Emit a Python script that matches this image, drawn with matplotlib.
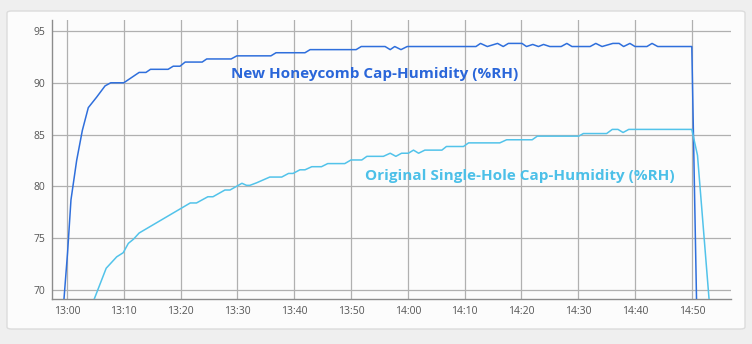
import matplotlib
matplotlib.use("Agg")
import matplotlib.pyplot as plt
from matplotlib.patches import FancyBboxPatch

# minutes after 13:00
new_t = [-1.0, 0.1, 0.7, 1.7, 2.7, 3.75, 5.2, 6.7, 7.7, 10.0, 12.7, 13.9, 14.7, 17.8, 18.7,
         19.9, 20.8, 23.8, 24.6, 28.9, 29.9, 35.9, 36.8, 41.9, 42.8, 50.9, 51.8, 56.0, 56.9,
         57.7, 58.8, 59.9, 72.0, 72.8, 74.0, 75.8, 76.8, 77.7, 80.1, 80.9, 82.0, 83.0, 83.9,
         85.0, 87.0, 88.0, 88.9, 92.1, 93.1, 94.2, 96.1, 97.2, 98.0, 99.1, 100.0, 102.1,
         103.0, 104.0, 110.0, 111.0]
new_v = [65.8, 73.6, 78.7, 82.5, 85.4, 87.6, 88.6, 89.7, 90.0, 90.0, 91.0, 91.0, 91.3, 91.3, 91.6,
         91.6, 92.0, 92.0, 92.3, 92.3, 92.6, 92.6, 92.9, 92.9, 93.2, 93.2, 93.5, 93.5, 93.2,
         93.5, 93.2, 93.5, 93.5, 93.8, 93.5, 93.8, 93.5, 93.8, 93.8, 93.5, 93.7, 93.5, 93.7,
         93.5, 93.5, 93.8, 93.5, 93.5, 93.8, 93.5, 93.8, 93.8, 93.5, 93.8, 93.5, 93.5,
         93.8, 93.5, 93.5, 64.1]

orig_t = [4.0, 6.9, 8.75, 9.9, 10.8, 11.7, 12.7, 21.7, 22.8, 24.8, 25.7, 27.8, 28.7, 30.8, 31.6,
          32.2, 33.4, 35.7, 37.8, 39.0, 39.8, 41.0, 41.9, 43.1, 44.8, 45.9, 48.9, 50.0, 51.9,
          52.8, 55.7, 56.9, 57.9, 58.9, 60.1, 61.0, 61.9, 63.0, 66.0, 66.8, 69.8, 70.7, 76.2,
          77.4, 81.9, 82.8, 90.1, 90.9, 95.0, 96.0, 97.0, 97.9, 98.9, 110.0, 111.0, 113.2]
orig_v = [68.0, 72.1, 73.2, 73.6, 74.5, 74.9, 75.5, 78.4, 78.4, 79.0, 79.0, 79.65, 79.65, 80.3, 80.1,
          80.1, 80.35, 80.9, 80.9, 81.25, 81.25, 81.6, 81.6, 81.9, 81.9, 82.2, 82.2, 82.55, 82.55,
          82.9, 82.9, 83.2, 82.9, 83.2, 83.2, 83.5, 83.2, 83.5, 83.5, 83.85, 83.85, 84.2, 84.2,
          84.5, 84.5, 84.85, 84.85, 85.1, 85.1, 85.5, 85.5, 85.2, 85.5, 85.5, 83.0, 68.0]

xticks = [0, 10, 20, 30, 40, 50, 60, 70, 80, 90, 100, 110]
xtick_labels = ["13:00", "13:10", "13:20", "13:30", "13:40", "13:50", "14:00",
                "14:10", "14:20", "14:30", "14:40", "14:50"]
yticks = [70, 75, 80, 85, 90, 95]

new_label = "New Honeycomb Cap-Humidity (%RH)"
orig_label = "Original Single-Hole Cap-Humidity (%RH)"

W, H = 752, 344
fig = plt.figure(figsize=(W / 100, H / 100), dpi=100)
fig.patch.set_facecolor("#efefef")

card = FancyBboxPatch((7 / W, 1 - 329 / H), (745 - 7) / W, (329 - 11) / H,
                      boxstyle="round,pad=0,rounding_size=0.006",
                      transform=fig.transFigure, facecolor="#fcfcfc",
                      edgecolor="#dcdcdc", linewidth=1, zorder=-5)
fig.patches.append(card)

ax = fig.add_axes([52 / W, 1 - 299 / H, (731 - 52) / W, (299 - 20) / H])
ax.set_zorder(2)
ax.set_facecolor("none")

ax.plot(new_t, new_v, color="#2f6fdc", lw=1.1, zorder=3)
ax.plot(orig_t, orig_v, color="#52c3ea", lw=1.1, zorder=3)

ax.set_xlim(-2.64, 116.9)
ax.set_ylim(69.13, 96.06)
ax.set_xticks(xticks)
ax.set_xticklabels(xtick_labels)
ax.set_yticks(yticks)
ax.grid(True, color="#b0b0b0", lw=0.9, zorder=1)
ax.set_axisbelow(True)
for s in ["top", "right"]:
    ax.spines[s].set_visible(False)
for s in ["left", "bottom"]:
    ax.spines[s].set_color("#8c8c8c")
    ax.spines[s].set_linewidth(1.0)
ax.tick_params(axis="both", length=0, labelsize=7.5, labelcolor="#555555", pad=5)
for lab in ax.get_xticklabels() + ax.get_yticklabels():
    lab.set_fontfamily("Open Sans")

ax.text(28.9, 90.85, new_label, color="#2a66d9", fontsize=11, fontweight="bold",
        family="Open Sans", va="center", ha="left", zorder=4)
ax.text(52.4, 81.0, orig_label, color="#4cc0e8", fontsize=11, fontweight="bold",
        family="Open Sans", va="center", ha="left", zorder=4)

fig.savefig("out.png", dpi=100, facecolor=fig.get_facecolor())
